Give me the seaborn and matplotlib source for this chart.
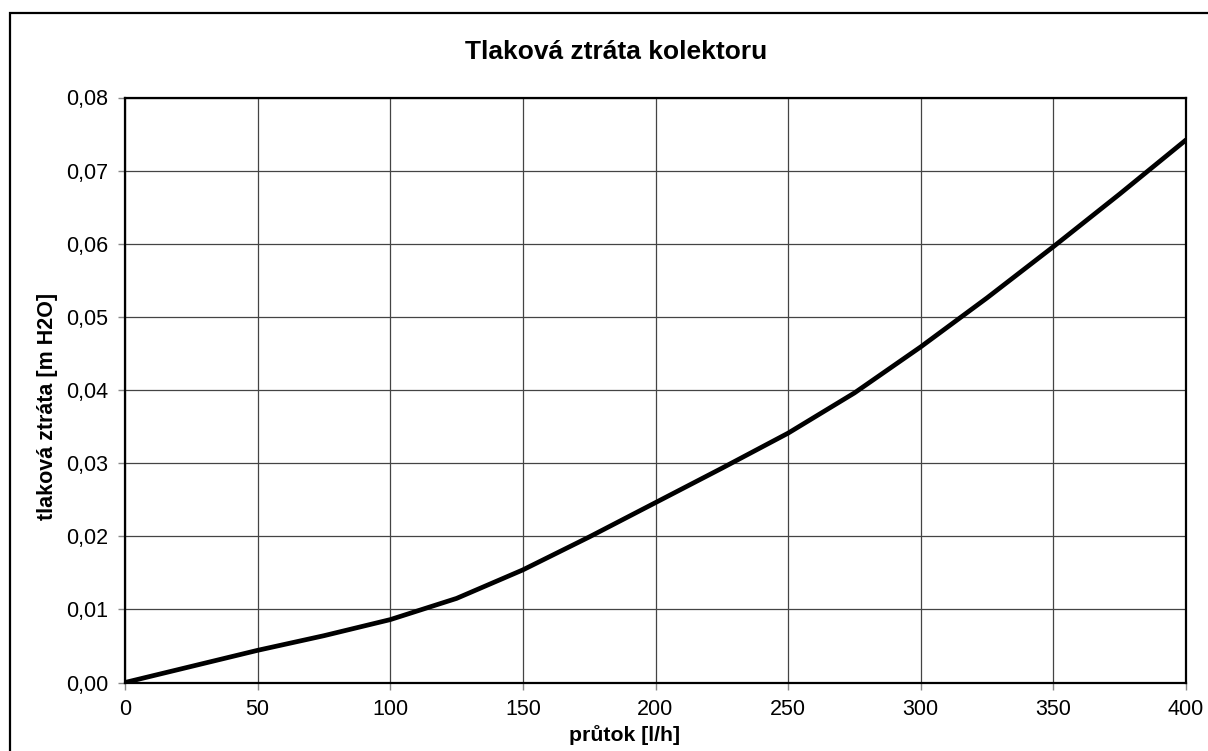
import pandas as pd
import matplotlib
matplotlib.use('Agg')
import matplotlib.pyplot as plt
from matplotlib.patches import Rectangle
from matplotlib.ticker import FuncFormatter
import seaborn as sns

# flow rate [l/h] and pressure loss [m H2O]
prutok = [0, 25, 50, 75, 100, 125, 150, 175, 200, 225, 250, 275, 300, 325, 350, 375, 400]
ztrata = [0.0, 0.0022, 0.0044, 0.0064, 0.0086, 0.0115, 0.0154, 0.0199, 0.0246, 0.0293,
          0.0341, 0.0396, 0.0459, 0.0526, 0.0596, 0.0668, 0.0742]

x_ticks = [0, 50, 100, 150, 200, 250, 300, 350, 400]
y_ticks = [0.0, 0.01, 0.02, 0.03, 0.04, 0.05, 0.06, 0.07, 0.08]

df = pd.DataFrame({'prutok': prutok, 'ztrata': ztrata})

sns.set_style('white')
plt.rcParams['font.family'] = ['Liberation Sans', 'DejaVu Sans']
plt.rcParams['text.color'] = 'black'
plt.rcParams['axes.labelcolor'] = 'black'

fig = plt.figure(figsize=(12.08, 7.51), dpi=100)
ax = fig.add_axes([125 / 1208, 68.5 / 751, 1061 / 1208, 585 / 751])

sns.lineplot(data=df, x='prutok', y='ztrata', color='black', linewidth=3.4, ax=ax)

ax.set_xlim(0, 400)
ax.set_ylim(0, 0.08)
ax.set_xticks(x_ticks)
ax.set_yticks(y_ticks)
ax.yaxis.set_major_formatter(FuncFormatter(lambda v, p: f'{v:.2f}'.replace('.', ',')))
ax.grid(True, color='#444444', linewidth=0.9)
ax.set_axisbelow(True)
for s in ax.spines.values():
    s.set_color('black')
    s.set_linewidth(1.6)
ax.tick_params(axis='both', which='major', direction='out', length=5, width=1,
               color='#888888', labelcolor='black', labelsize=15.5, pad=7,
               bottom=True, left=True)

ax.set_xlabel('průtok [l/h]', fontsize=15.3, fontweight='bold')
ax.set_ylabel('tlaková ztráta [m H2O]', fontsize=15.5, fontweight='bold')
ax.xaxis.set_label_coords(0.471, -0.073)
ax.yaxis.set_label_coords(-0.063, 0.472)
fig.text(616 / 1208, 1 - 52 / 751, 'Tlaková ztráta kolektoru', ha='center', va='center',
         fontsize=19, fontweight='bold', color='black')

# outer chart frame (right and bottom edges are cut off in the original)
fig.patches.append(Rectangle((9.5 / 1208, -0.1), 1.2, 1.1 - 12.5 / 751, transform=fig.transFigure,
                             fill=False, edgecolor='black', linewidth=1.6))

fig.savefig('out.png', dpi=100)
